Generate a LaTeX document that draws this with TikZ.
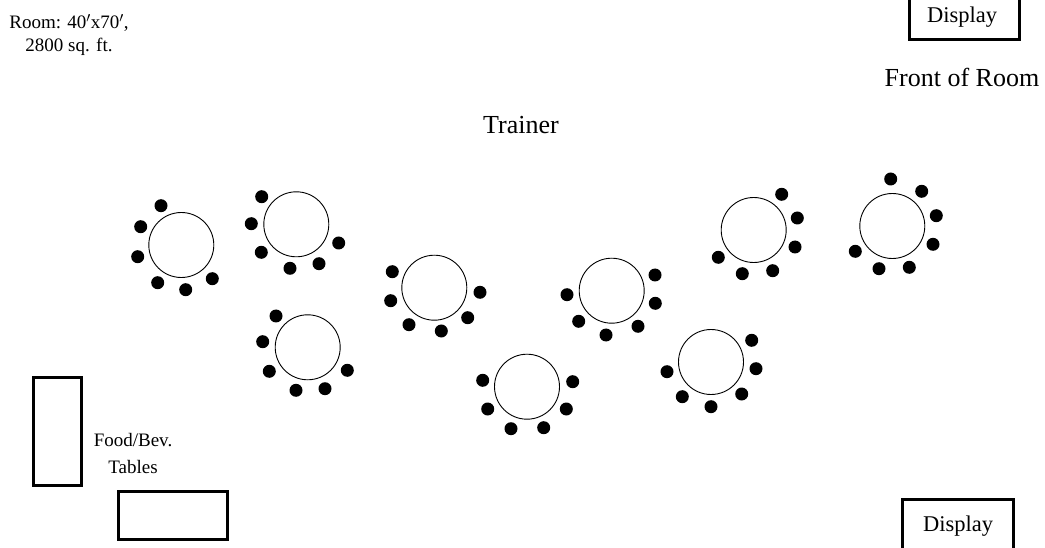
\documentclass[tikz,border=0pt]{standalone}
\usepackage{fontspec}
\setmainfont{Liberation Serif}
\tikzset{
  roundtable/.style={circle, draw, line width=.9pt, minimum size=65pt, inner sep=0pt},
  seat/.style={circle, fill=black, minimum size=13pt, inner sep=0pt},
  longtable/.style={rectangle, draw, line width=3pt, inner sep=0pt},
  label/.style={inner sep=0pt, align=center}
}

\begin{document}
\begin{tikzpicture}[x=1pt, y=-1pt]
\useasboundingbox (0,0) rectangle (1045,548);

\node [label, font=\fontsize{19}{23}\selectfont] (roomsize) at (69, 35) {Room: 40$'$x70$'$,\\2800 sq. ft.};
\node [label, font=\fontsize{26}{28}\selectfont] (front) at (962, 77) {Front of Room};
\node [label, font=\fontsize{26}{28}\selectfont] (trainer) at (521, 125) {Trainer};
\node [label, font=\fontsize{19}{27}\selectfont] (foodbev) at (133, 453) {Food/Bev.\\Tables};

% displays
\begin{scope}
\clip (0,0) rectangle (1045,548);
\node [longtable, minimum width=110pt, minimum height=60pt] (displaytop) at (964.5, 10) {};
\node [longtable, minimum width=111pt, minimum height=50pt] (displaybot) at (958, 524) {};
\end{scope}
\node [label, font=\fontsize{22.5}{24}\selectfont] (displaytoplabel) at (962, 17.5) {Display};
\node [label, font=\fontsize{22.5}{24}\selectfont] (displaybotlabel) at (958, 526) {Display};

% food tables
\node [longtable, minimum width=48pt, minimum height=108pt] (foodleft) at (57.5, 431) {};
\node [longtable, minimum width=109pt, minimum height=48pt] (foodbot) at (173.3, 515) {};

% round tables
\foreach \name/\x/\y in {t1/181.3/245, t2/296.3/224.3, t3/434.3/287.7, t4/307.7/347.3,
    t5/527/386.7, t6/611.7/290.7, t7/711/362, t8/753.7/230, t9/892.3/226}
  \node [roundtable] (\name) at (\x, \y) {};

% seats
\foreach \x/\y in {161/205.7, 140.7/226.7, 137.7/256.7, 157.7/282.7, 185.7/289.7, 212.3/278.7,
    261.7/196.7, 251.3/223.7, 261.3/252.3, 290/268.3, 319/263.7, 338.7/243,
    392.3/271.7, 390.7/300.7, 409/324.7, 441.3/331, 467.7/317.7, 480/292.3,
    276/316, 262.7/341.7, 269.3/371.3, 296/390.3, 325/388.7, 347.3/370.3,
    482.7/380.3, 487.7/409, 511/428.7, 543.7/427.7, 566.3/409, 572.7/381.7,
    567/294.7, 578.7/321.3, 606/335, 638/326.3, 655.3/303.3, 655/275,
    667/371.7, 682.3/396.7, 711/406.7, 741.7/394, 756/368.7, 751.7/340.3,
    718.3/257.3, 742.3/273.7, 772.7/270.7, 795/247, 797.3/218, 781.7/194.3,
    855.3/251.3, 879/268.7, 909.3/267.3, 933/244.3, 936.3/215.7, 921.7/191.3, 890.7/179}
  \node [seat] at (\x, \y) {};

\end{tikzpicture}
\end{document}
